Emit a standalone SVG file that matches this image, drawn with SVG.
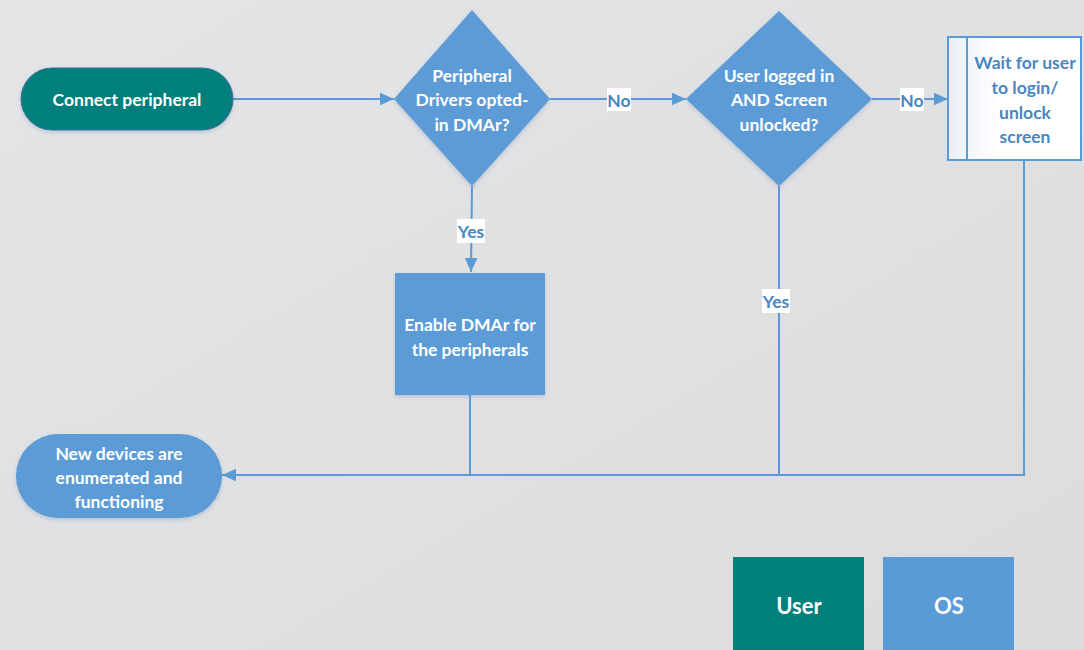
<svg xmlns="http://www.w3.org/2000/svg" width="1084" height="650" viewBox="0 0 1084 650">
  <defs>
    <linearGradient id="bg" x1="0" y1="0" x2="1" y2="1">
      <stop offset="0" stop-color="#e4e5e7"/>
      <stop offset="1" stop-color="#dcdcdf"/>
    </linearGradient>
    <linearGradient id="waitFill" x1="0" y1="0" x2="1" y2="0">
      <stop offset="0" stop-color="#e9eef7"/>
      <stop offset="0.4" stop-color="#ffffff"/>
      <stop offset="1" stop-color="#ffffff"/>
    </linearGradient>
    <filter id="shadow" x="-10%" y="-10%" width="120%" height="130%">
      <feDropShadow dx="0" dy="2" stdDeviation="2" flood-color="#5b7fa8" flood-opacity="0.3"/>
    </filter>
    <marker id="arrow" viewBox="0 0 10 10" refX="10" refY="5" markerWidth="14" markerHeight="14" markerUnits="userSpaceOnUse" orient="auto">
      <path d="M0,0.5 L10,5 L0,9.5 z" fill="#5b9bd5"/>
    </marker>
    <style>
      .lbl { font-family: Lato, "Open Sans", "Liberation Sans", sans-serif; font-weight: bold; text-anchor: middle; dominant-baseline: central; }
      .w { fill: #ffffff; font-size: 17.5px; }
      .b { fill: #4a86c0; font-size: 17.5px; }
      .edge { fill: none; stroke: #5b9bd5; stroke-width: 2; }
      .tag { fill: #ffffff; }
      .teal { fill: #007f7b; }
      .blue { fill: #5b9bd5; }
    </style>
  </defs>

  <rect width="1084" height="650" fill="url(#bg)"/>

  <!-- connectors -->
  <g id="connectors">
    <path class="edge" d="M233,99 H394" marker-end="url(#arrow)"/>
    <path class="edge" d="M550,99 H686" marker-end="url(#arrow)"/>
    <path class="edge" d="M872,99 H948" marker-end="url(#arrow)"/>
    <path class="edge" d="M472,186 L471,272" marker-end="url(#arrow)"/>
    <path class="edge" d="M470,395 V475"/>
    <path class="edge" d="M779,186 V475"/>
    <path class="edge" d="M1024,160 V475 H222" marker-end="url(#arrow)"/>
    <rect class="tag" x="607" y="88" width="24" height="23"/>
    <text class="lbl b" x="619" y="100">No</text>
    <rect class="tag" x="900" y="88" width="24" height="23"/>
    <text class="lbl b" x="912" y="100">No</text>
    <rect class="tag" x="457" y="219" width="28" height="24"/>
    <text class="lbl b" x="471" y="231">Yes</text>
    <rect class="tag" x="762" y="289" width="28" height="24"/>
    <text class="lbl b" x="776" y="301">Yes</text>
  </g>

  <g id="connect-peripheral">
    <rect x="21" y="68" width="212" height="62" rx="31" class="teal" stroke="#3f6f9e" stroke-width="1" filter="url(#shadow)"/>
    <text class="lbl w" x="127" y="99">Connect peripheral</text>
  </g>

  <g id="drivers-opted-in">
    <polygon points="472,10 550,99 472,186 394,99" class="blue" filter="url(#shadow)"/>
    <text class="lbl w" x="472" y="75">Peripheral</text>
    <text class="lbl w" x="472" y="99">Drivers opted-</text>
    <text class="lbl w" x="472" y="124">in DMAr?</text>
  </g>

  <g id="user-logged-in">
    <polygon points="779,11 872,99 779,186 686,99" class="blue" filter="url(#shadow)"/>
    <text class="lbl w" x="779" y="75">User logged in</text>
    <text class="lbl w" x="779" y="99">AND Screen</text>
    <text class="lbl w" x="779" y="124">unlocked?</text>
  </g>

  <g id="wait-for-user">
    <rect x="948" y="37" width="133" height="123" fill="url(#waitFill)" stroke="#5b9bd5" stroke-width="2"/>
    <line x1="967" y1="37" x2="967" y2="160" stroke="#5b9bd5" stroke-width="2"/>
    <text class="lbl b" x="1025" y="62">Wait for user</text>
    <text class="lbl b" x="1025" y="87">to login/</text>
    <text class="lbl b" x="1025" y="112">unlock</text>
    <text class="lbl b" x="1025" y="136">screen</text>
  </g>

  <g id="enable-dmar">
    <rect x="395" y="273" width="150" height="122" class="blue" filter="url(#shadow)"/>
    <text class="lbl w" x="470" y="324">Enable DMAr for</text>
    <text class="lbl w" x="470" y="349">the peripherals</text>
  </g>

  <g id="new-devices">
    <rect x="16" y="434" width="206" height="84" rx="42" class="blue" filter="url(#shadow)"/>
    <text class="lbl w" x="119" y="453">New devices are</text>
    <text class="lbl w" x="119" y="477">enumerated and</text>
    <text class="lbl w" x="119" y="501">functioning</text>
  </g>

  <g id="legend-user">
    <rect x="733" y="557" width="131" height="100" class="teal"/>
    <text class="lbl w" x="799" y="605" style="font-size:22px">User</text>
  </g>
  <g id="legend-os">
    <rect x="883" y="557" width="131" height="100" class="blue"/>
    <text class="lbl w" x="949" y="605" style="font-size:22px">OS</text>
  </g>
</svg>
